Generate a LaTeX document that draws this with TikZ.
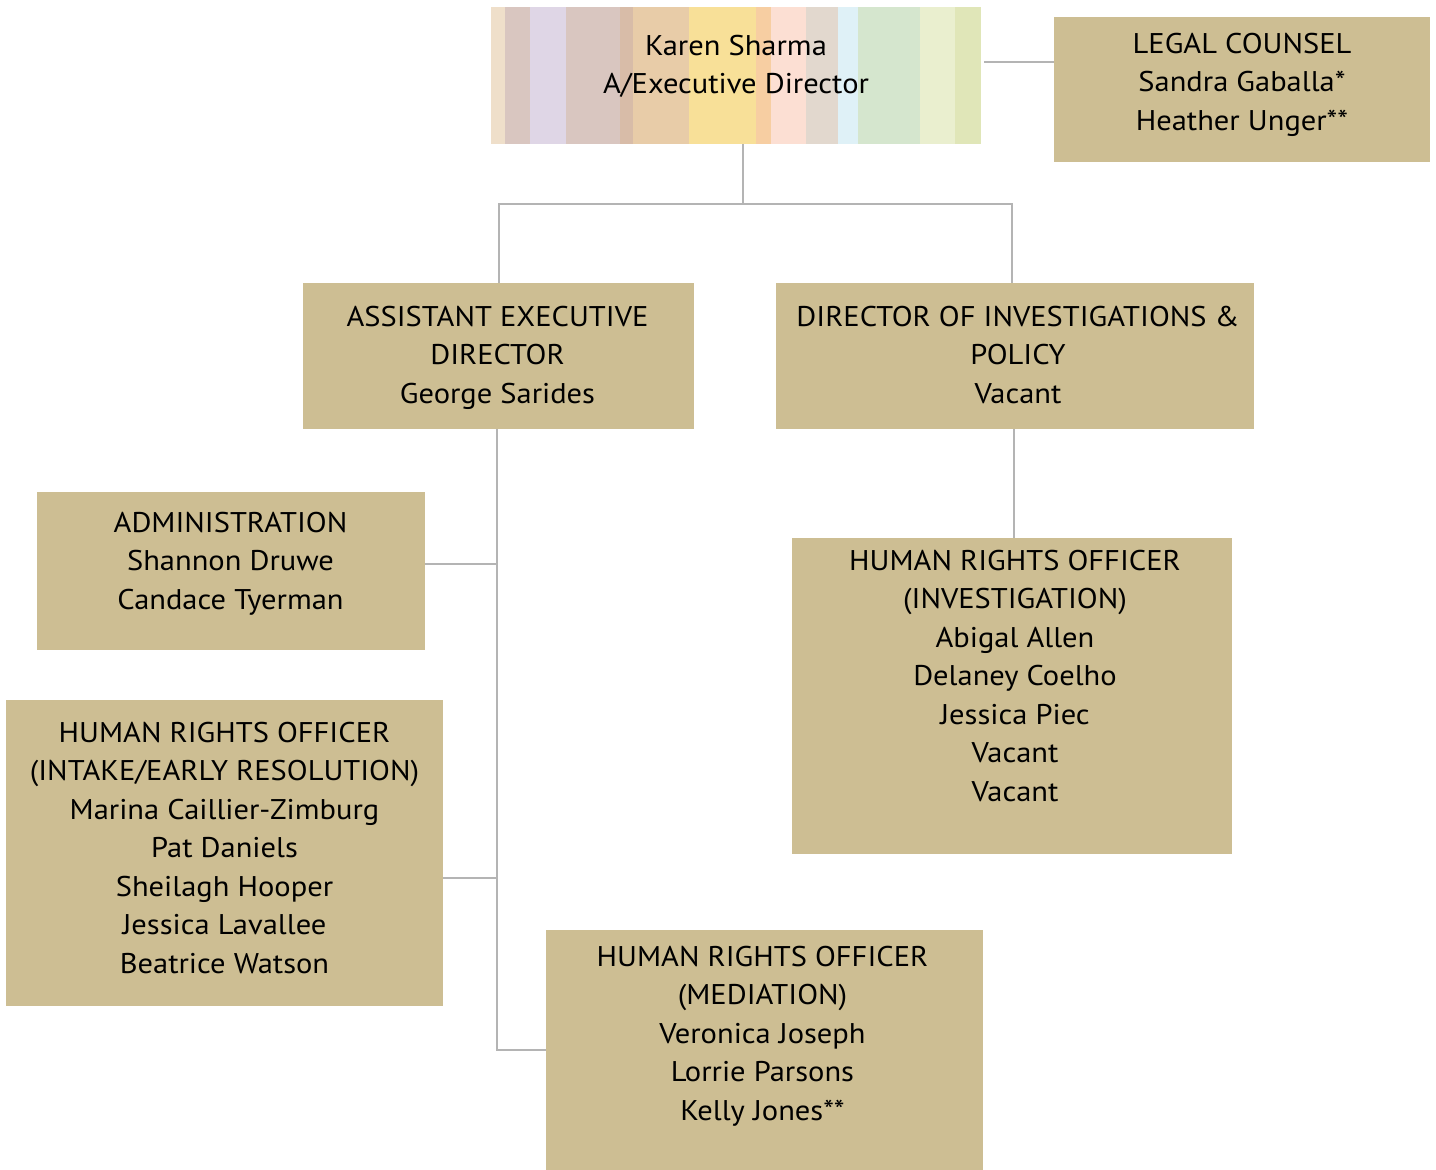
\documentclass[tikz,border=0pt]{standalone}
\usepackage{fontspec}
\setmainfont[FakeStretch=1.07]{PT Sans}
\usepackage{tikz}
\usetikzlibrary{positioning}
\definecolor{boxtan}{HTML}{CDBE93}
\definecolor{linkgray}{HTML}{B4B4B4}

\begin{document}
\begin{tikzpicture}[
    x=1pt, y=-1pt,
    every node/.style={align=center},
    role/.style={rectangle, fill=boxtan, inner sep=0pt, anchor=north west},
    txt/.style={inner sep=0pt, anchor=north, font=\fontsize{28.5}{38.5}\selectfont},
    link/.style={draw=linkgray, line width=2pt}
]
\useasboundingbox (0,0) rectangle (1436,1170);

% striped executive box
\foreach \xa/\xb/\shade in {491/505/EFDFCA, 505/530/D9C6C0, 530/566/DFD6E6, 566/620/D9C6C0,
    620/633/D8BCA8, 633/689/E8CCA8, 689/756/F8E098, 756/771/F7CEA2, 771/806/FCDFD3,
    806/838/E2D8CE, 838/858/DFF1F7, 858/920/D5E6CE, 920/955/EAEFCF, 955/981/E0E6B8}{
    \definecolor{stripe}{HTML}{\shade}
    \fill[stripe] (\xa,7) rectangle (\xb,144);
}
\node[inner sep=0pt, anchor=north west, minimum width=490pt, minimum height=137pt] (exec) at (491,7) {};
\node[txt] at (736,28) {\strut Karen Sharma\\A/Executive Director};

% boxes
\node[role, minimum width=376pt, minimum height=145pt] (legal) at (1054,17) {};
\node[txt] at (1242,26) {\strut LEGAL COUNSEL\\Sandra Gaballa*\\Heather Unger**};

\node[role, minimum width=391pt, minimum height=146pt] (aed) at (303,283) {};
\node[txt] at (497.5,299) {\strut ASSISTANT EXECUTIVE\\DIRECTOR\\George Sarides};

\node[role, minimum width=478pt, minimum height=146pt] (dip) at (776,283) {};
\node[txt] at (1018,299) {\strut DIRECTOR OF INVESTIGATIONS \&\\POLICY\\Vacant};

\node[role, minimum width=388pt, minimum height=158pt] (admin) at (37,492) {};
\node[txt] at (230.5,505) {\strut ADMINISTRATION\\Shannon Druwe\\Candace Tyerman};

\node[role, minimum width=440pt, minimum height=316pt] (hroinv) at (792,538) {};
\node[txt] at (1015,543) {\strut HUMAN RIGHTS OFFICER\\(INVESTIGATION)\\Abigal Allen\\Delaney Coelho\\Jessica Piec\\Vacant\\Vacant};

\node[role, minimum width=437pt, minimum height=306pt] (intake) at (6,700) {};
\node[txt] at (224.5,715) {\strut HUMAN RIGHTS OFFICER\\(INTAKE/EARLY RESOLUTION)\\Marina Caillier-Zimburg\\Pat Daniels\\Sheilagh Hooper\\Jessica Lavallee\\Beatrice Watson};

\node[role, minimum width=437pt, minimum height=240pt] (med) at (546,930) {};
\node[txt] at (762.5,939) {\strut HUMAN RIGHTS OFFICER\\(MEDIATION)\\Veronica Joseph\\Lorrie Parsons\\Kelly Jones**};

% connectors
\coordinate (split) at (743,204);
\coordinate (spine) at (497,429);
\draw[link] (exec.south -| split) -- (split);
\draw[link] (split) -| (aed.north);
\draw[link] (split) -| ([xshift=-3pt]dip.north);
\draw[link] ([xshift=3pt]exec.east |- 0,62) -- (legal.west |- 0,62);
\draw[link] (spine) |- (med.west);
\draw[link] (admin.east |- 0,564) -- (spine |- 0,564);
\draw[link] (intake.east |- 0,878) -- (spine |- 0,878);
\draw[link] ([xshift=-1pt]dip.south) -- ([xshift=-1pt]dip.south |- hroinv.north);

\end{tikzpicture}
\end{document}
